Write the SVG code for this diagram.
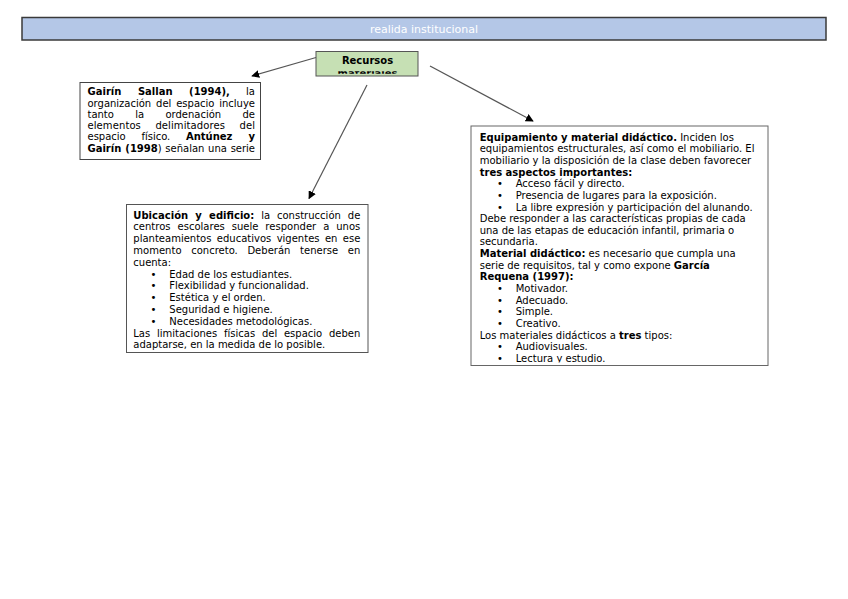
<svg xmlns="http://www.w3.org/2000/svg" width="848" height="599" viewBox="0 0 848 599">
<style>
text{font-family:"DejaVu Sans","Verdana",sans-serif;font-size:10px;fill:#000}
.b{font-weight:bold}
.box{fill:#fff;stroke:#555;stroke-width:1}
.conn{stroke:#555;stroke-width:1.2;fill:none;marker-end:url(#ah)}
</style>
<defs>
<marker id="ah" viewBox="0 0 10 10" refX="9" refY="5" markerWidth="8" markerHeight="8" markerUnits="userSpaceOnUse" orient="auto">
<path d="M0,0 L10,5 L0,10 z" fill="#000"/>
</marker>
<clipPath id="clipRec"><rect x="316" y="71.3" width="102" height="2.5"/></clipPath>
<clipPath id="clipRight"><rect x="471" y="126" width="297" height="236.5"/></clipPath>
</defs>
<rect width="848" height="599" fill="#fff"/>

<g id="header">
<rect x="22" y="17.5" width="804" height="22.5" fill="#b4c7e7" stroke="#3a3a3a" stroke-width="1.5"/>
<text x="424" y="33" text-anchor="middle" style="font-size:11px;fill:#fff">realida institucional</text>
</g>

<g id="recursos">
<rect x="316" y="51.5" width="102" height="24.5" fill="#c6e0b4" stroke="#555" stroke-width="1"/>
<text class="b" x="367.5" y="64.3" text-anchor="middle">Recursos</text>
<text class="b" x="367.5" y="77.3" text-anchor="middle" clip-path="url(#clipRec)">materiales</text>
</g>

<g id="connectors">
<line class="conn" x1="316" y1="57.5" x2="252" y2="76"/>
<line class="conn" x1="367" y1="85" x2="309" y2="198.5"/>
<line class="conn" x1="430" y1="66" x2="533" y2="121"/>
</g>

<g id="gairin">
<rect class="box" x="80" y="82.5" width="180.5" height="77" style="stroke:#444"/>
<text x="87.5" y="95.2" textLength="167.5" lengthAdjust="spacing" style="word-spacing:13px"><tspan class="b">Gairín Sallan (1994),</tspan> la</text>
<text x="87.5" y="106.5" textLength="167.5" lengthAdjust="spacing" style="word-spacing:1.7px">organización del espacio incluye</text>
<text x="87.5" y="117.8" textLength="167.5" lengthAdjust="spacing" style="word-spacing:18.2px">tanto la ordenación de</text>
<text x="87.5" y="129.1" textLength="167.5" lengthAdjust="spacing" style="word-spacing:11.2px">elementos delimitadores del</text>
<text x="87.5" y="140.4" textLength="167.5" lengthAdjust="spacing" style="word-spacing:12.6px">espacio físico. <tspan class="b">Antúnez y</tspan></text>
<text x="87.5" y="151.7" textLength="167.5" lengthAdjust="spacing" style="word-spacing:0.6px"><tspan class="b">Gairín (1998</tspan>) señalan una serie</text>
</g>

<g id="ubicacion">
<rect class="box" x="126.5" y="204.5" width="241.5" height="148"/>
<text x="133.3" y="218.6" textLength="227" lengthAdjust="spacing" style="word-spacing:3.7px"><tspan class="b">Ubicación y edificio:</tspan> la construcción de</text>
<text x="133.3" y="230.4" textLength="227" lengthAdjust="spacing" style="word-spacing:3.7px">centros escolares suele responder a unos</text>
<text x="133.3" y="242.2" textLength="227" lengthAdjust="spacing" style="word-spacing:2.2px">planteamientos educativos vigentes en ese</text>
<text x="133.3" y="254" textLength="227" lengthAdjust="spacing" style="word-spacing:6.4px">momento concreto. Deberán tenerse en</text>
<text x="133.3" y="265.8">cuenta:</text>
<text x="150.5" y="277.6">•</text><text x="169.3" y="277.6">Edad de los estudiantes.</text>
<text x="150.5" y="289.4">•</text><text x="169.3" y="289.4">Flexibilidad y funcionalidad.</text>
<text x="150.5" y="301.2">•</text><text x="169.3" y="301.2">Estética y el orden.</text>
<text x="150.5" y="313">•</text><text x="169.3" y="313">Seguridad e higiene.</text>
<text x="150.5" y="324.8">•</text><text x="169.3" y="324.8">Necesidades metodológicas.</text>
<text x="133.3" y="336.6" textLength="227" lengthAdjust="spacing" style="word-spacing:3.6px">Las limitaciones físicas del espacio deben</text>
<text x="133.3" y="348.4">adaptarse, en la medida de lo posible.</text>
</g>

<g id="equipamiento">
<rect class="box" x="471" y="126" width="297" height="239.5" style="stroke:#666"/>
<g clip-path="url(#clipRight)">
<text x="479.7" y="140.6"><tspan class="b">Equipamiento y material didáctico.</tspan> Inciden los</text>
<text x="479.7" y="152.25">equipamientos estructurales, así como el mobiliario. El</text>
<text x="479.7" y="163.9">mobiliario y la disposición de la clase deben favorecer</text>
<text x="479.7" y="175.55" class="b">tres aspectos importantes:</text>
<text x="497" y="187.2">•</text><text x="515.7" y="187.2">Acceso fácil y directo.</text>
<text x="497" y="198.85">•</text><text x="515.7" y="198.85">Presencia de lugares para la exposición.</text>
<text x="497" y="210.5">•</text><text x="515.7" y="210.5">La libre expresión y participación del alunando.</text>
<text x="479.7" y="222.15">Debe responder a las características propias de cada</text>
<text x="479.7" y="233.8">una de las etapas de educación infantil, primaria o</text>
<text x="479.7" y="245.45">secundaria.</text>
<text x="479.7" y="257.1"><tspan class="b">Material didáctico:</tspan> es necesario que cumpla una</text>
<text x="479.7" y="268.75">serie de requisitos, tal y como expone <tspan class="b">García</tspan></text>
<text x="479.7" y="280.4" class="b">Requena (1997):</text>
<text x="497" y="292.05">•</text><text x="515.7" y="292.05">Motivador.</text>
<text x="497" y="303.7">•</text><text x="515.7" y="303.7">Adecuado.</text>
<text x="497" y="315.35">•</text><text x="515.7" y="315.35">Simple.</text>
<text x="497" y="327">•</text><text x="515.7" y="327">Creativo.</text>
<text x="479.7" y="338.65">Los materiales didácticos a <tspan class="b">tres</tspan> tipos:</text>
<text x="497" y="350.3">•</text><text x="515.7" y="350.3">Audiovisuales.</text>
<text x="497" y="361.95">•</text><text x="515.7" y="361.95">Lectura y estudio.</text>
</g>
</g>
</svg>
